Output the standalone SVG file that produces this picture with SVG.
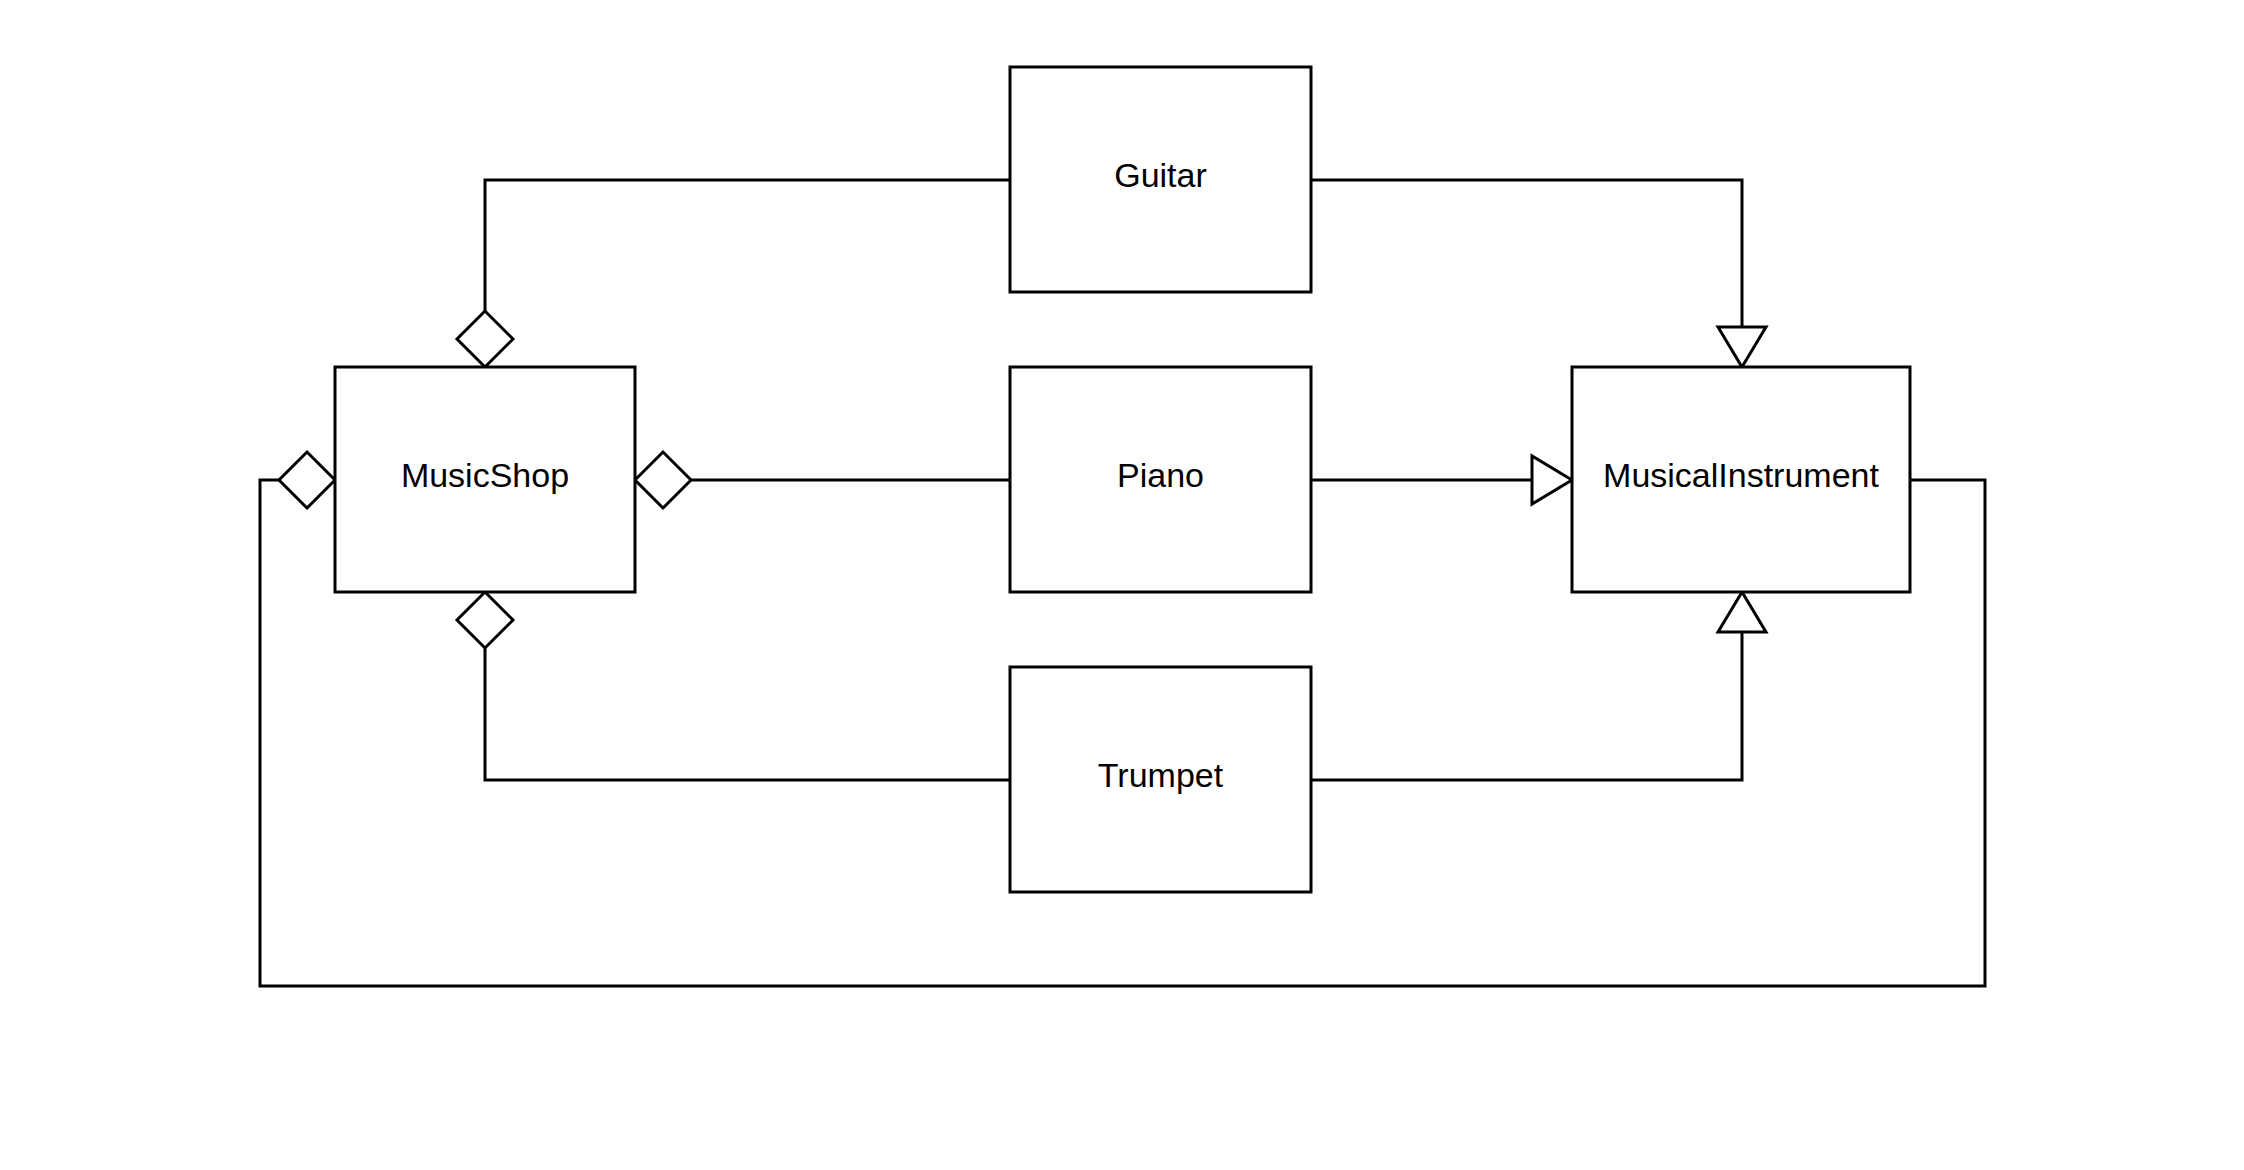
<svg xmlns="http://www.w3.org/2000/svg" width="2244" height="1170" viewBox="0 0 2244 1170">
<style>
.box{fill:#fff;stroke:#000;stroke-width:3}
.lbl{font-family:"Liberation Sans",Arial,sans-serif;font-size:34px;fill:#000;text-anchor:middle}
.edge{fill:none;stroke:#000;stroke-width:3}
.agg{marker-start:url(#diamond)}
.gen{marker-end:url(#triangle)}
</style>
<defs>
<marker id="diamond" markerUnits="userSpaceOnUse" orient="auto" refX="0" refY="0" markerWidth="60" markerHeight="60" overflow="visible">
<path d="M0,0 L28,-28 L56,0 L28,28 Z" fill="#fff" stroke="#000" stroke-width="3" stroke-linejoin="miter"/>
</marker>
<marker id="triangle" markerUnits="userSpaceOnUse" orient="auto" refX="0" refY="0" markerWidth="60" markerHeight="60" overflow="visible">
<path d="M0,0 L-40,-24 L-40,24 Z" fill="#fff" stroke="#000" stroke-width="3"/>
</marker>
</defs>
<rect width="2244" height="1170" fill="#fff"/>
<g id="connectors">
<path class="edge agg" d="M485,367 L485,180 L1010,180"/>
<path class="edge gen" d="M1311,180 L1742,180 L1742,367"/>
<path class="edge agg" d="M635,480 L1010,480"/>
<path class="edge gen" d="M1311,480 L1572,480"/>
<path class="edge agg" d="M485,592 L485,780 L1010,780"/>
<path class="edge gen" d="M1311,780 L1742,780 L1742,592"/>
<path class="edge agg" d="M335,480 L260,480 L260,986 L1985,986 L1985,480 L1910,480"/>
</g>
<g id="Guitar">
<rect class="box" x="1010" y="67" width="301" height="225"/>
<text class="lbl" x="1160.5" y="187">Guitar</text>
</g>
<g id="MusicShop">
<rect class="box" x="335" y="367" width="300" height="225"/>
<text class="lbl" x="485" y="487">MusicShop</text>
</g>
<g id="Piano">
<rect class="box" x="1010" y="367" width="301" height="225"/>
<text class="lbl" x="1160.5" y="487">Piano</text>
</g>
<g id="MusicalInstrument">
<rect class="box" x="1572" y="367" width="338" height="225"/>
<text class="lbl" x="1741" y="487">MusicalInstrument</text>
</g>
<g id="Trumpet">
<rect class="box" x="1010" y="667" width="301" height="225"/>
<text class="lbl" x="1160.5" y="787">Trumpet</text>
</g>
</svg>
